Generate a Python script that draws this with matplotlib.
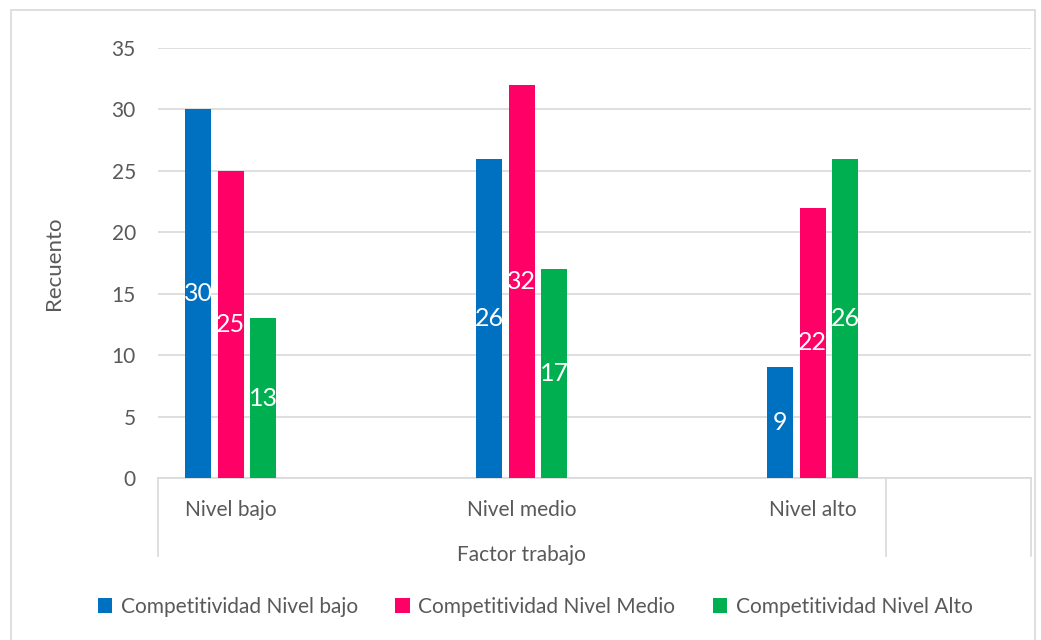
import matplotlib.pyplot as plt
from matplotlib.patches import Rectangle, Patch
import numpy as np

plt.rcParams['font.family'] = ['Lato', 'DejaVu Sans']

# Datos
categorias = ['Nivel bajo', 'Nivel medio', 'Nivel alto']
series = ['Competitividad Nivel bajo', 'Competitividad Nivel Medio', 'Competitividad Nivel Alto']
nivel_bajo = [30, 26, 9]
nivel_medio = [25, 32, 22]
nivel_alto = [13, 17, 26]
grupo = 'Factor trabajo'

colores = ['#0070C0', '#FF0066', '#00B050']
gris_texto = '#595959'
gris_linea = '#D9D9D9'

fig = plt.figure(figsize=(10.41, 6.40), dpi=100)
ax = fig.add_axes([158 / 1041, 1 - 478 / 640, (1031 - 158) / 1041, 430 / 640])

# Marco exterior del gráfico
fig.patches.append(Rectangle((11 / 1041, -0.05), 1024 / 1041, 1 - 10 / 640 + 0.05,
                             transform=fig.transFigure, fill=False,
                             edgecolor=gris_linea, linewidth=1.2))

x = np.arange(len(categorias)) + 0.25
ancho = 0.089
desp = 0.111
valores = [nivel_bajo, nivel_medio, nivel_alto]
for i, (vals, color) in enumerate(zip(valores, colores)):
    barras = ax.bar(x + (i - 1) * desp, vals, ancho, color=color, zorder=3, label=series[i])
    for b, v in zip(barras, vals):
        ax.text(b.get_x() + b.get_width() / 2, v / 2, str(v), ha='center', va='center',
                color='white', fontsize=18, zorder=4)

ax.set_xlim(0, 3)
ax.set_ylim(0, 35)
ax.set_yticks(range(0, 36, 5))
ax.grid(axis='y', color=gris_linea, linewidth=1.2, zorder=0)
ax.tick_params(axis='y', length=0, pad=16, labelsize=15, labelcolor=gris_texto)
ax.set_xticks([])
for s in ['top', 'right', 'left']:
    ax.spines[s].set_visible(False)
ax.spines['bottom'].set_color(gris_linea)
ax.spines['bottom'].set_linewidth(1.2)

# Eje de categorías en varios niveles
tr = ax.get_xaxis_transform()
for xv in [0, 2.5, 3]:
    ax.plot([xv, xv], [0, -0.181], transform=tr, color=gris_linea, linewidth=1.2, clip_on=False)
for xc, cat in zip(x, categorias):
    ax.text(xc, -0.074, cat, transform=tr, ha='center', va='center', fontsize=15, color=gris_texto)
ax.text(1.25, -0.179, grupo, transform=tr, ha='center', va='center', fontsize=15, color=gris_texto)

ax.set_ylabel('Recuento', fontsize=16, color=gris_texto, labelpad=34)

handles = [Patch(facecolor=c, label=s) for c, s in zip(colores, series)]
fig.legend(handles=handles, loc='center', bbox_to_anchor=(535 / 1041, 1 - 607 / 640), ncol=3,
           frameon=False, fontsize=15, labelcolor=gris_texto, handlelength=0.7,
           handleheight=0.7, handletextpad=0.4, columnspacing=1.8)

fig.savefig('out.png', dpi=100)
